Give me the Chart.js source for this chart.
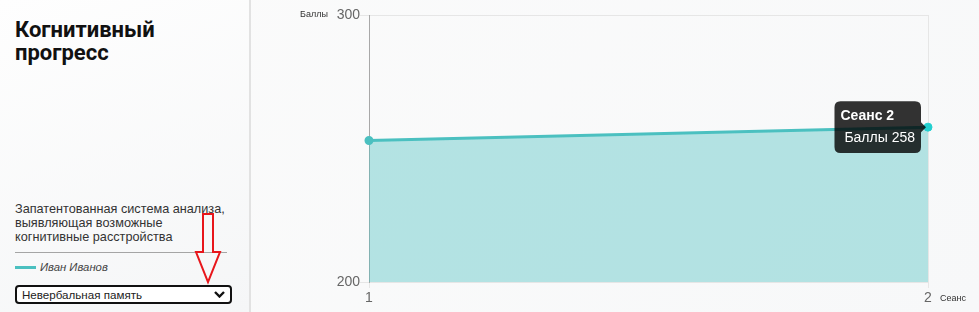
<!DOCTYPE html>
<html>
<head>
<meta charset="utf-8">
<script src="https://cdn.jsdelivr.net/npm/chart.js@4/dist/chart.umd.min.js"></script>
<style>
  html, body { margin:0; padding:0; }
  body { width:979px; height:312px; position:relative; overflow:hidden;
         background: linear-gradient(135deg, #fbfbfb 0%, #f7f8f9 100%);
         font-family: "Liberation Sans", Arial, sans-serif; }
  #panel { position:absolute; left:0; top:0; width:250px; height:312px;
           background: linear-gradient(160deg, #fefefe 0%, #f5f6f7 100%); }
  #sep { position:absolute; left:249px; top:0; width:2px; height:312px; background:#e2e2e2; }
  #title { position:absolute; left:15px; top:18px; font-family: Roboto, sans-serif; font-weight:700;
           font-size:22px; line-height:23px; color:#111; }
  #desc { position:absolute; left:15px; top:202px; width:225px; font-size:12.7px; line-height:14px; color:#333; }
  #hr { position:absolute; left:15px; top:252px; width:212px; height:1px; background:#a5a5a5; }
  #legline { position:absolute; left:15px; top:266px; width:21px; height:3px; background:#4bc0c0; }
  #legtext { position:absolute; left:40px; top:261px; font-size:11.3px; font-style:italic; color:#444; }
  #select { position:absolute; left:15px; top:285px; width:208px; height:15px; border:2px solid #111;
            border-radius:4px; background:#fff; font-size:11.6px; line-height:15px; color:#222; padding-left:5px; }
  #chev { position:absolute; right:5px; top:4px; }
  #wrap { position:absolute; left:255px; top:0; width:724px; height:312px; }
  .axt { position:absolute; font-size:9px; color:#333; }
  #arrow { position:absolute; left:0; top:0; }
</style>
</head>
<body>
<div id="panel"></div>
<div id="sep"></div>
<div id="title">Когнитивный<br>прогресс</div>
<div id="desc">Запатентованная система анализа,<br>выявляющая возможные<br>когнитивные расстройства</div>
<div id="hr"></div>
<div id="legline"></div>
<div id="legtext">Иван Иванов</div>
<div id="select">Невербальная память
  <svg id="chev" width="11" height="7" viewBox="0 0 11 7"><polyline points="1,1 5.5,5.5 10,1" fill="none" stroke="#111" stroke-width="2.4"/></svg>
</div>
<div id="wrap"><canvas id="c" width="724" height="312"></canvas></div>
<div class="axt" style="left:300px; top:9px;">Баллы</div>
<div class="axt" style="left:940px; top:293px;">Сеанс</div>
<svg id="arrow" width="979" height="312">
  <polygon points="203,214 213,214 213,252 220,252 208,282 196,252 203,252" fill="none" stroke="#e8161b" stroke-width="2"/>
</svg>
<script>
const sessions = ['1', '2'];
const scores = [253, 258];
const seriesLabel = 'Баллы';
const seriesName = 'Иван Иванов';
const yTicks = [200, 300];

const teal = 'rgb(75,192,192)';
const chart = new Chart(document.getElementById('c'), {
  type: 'line',
  data: {
    labels: sessions,
    datasets: [{
      label: seriesName,
      data: scores,
      borderColor: teal,
      backgroundColor: 'rgba(75,192,192,0.4)',
      pointBackgroundColor: teal,
      pointBorderColor: teal,
      borderWidth: 3,
      pointRadius: 3,
      pointHoverRadius: 4,
      fill: 'start',
      tension: 0
    }]
  },
  options: {
    responsive: false,
    animation: false,
    layout: { padding: { left: 0, right: 51, top: 15, bottom: 0 } },
    plugins: {
      legend: { display: false },
      tooltip: {
        displayColors: false,
        titleFont: { size: 14, weight: 'bold', family: 'Liberation Sans, Arial' },
        bodyFont: { size: 14, family: 'Liberation Sans, Arial' },
        callbacks: {
          title: items => 'Сеанс ' + items[0].label,
          label: item => ' ' + seriesLabel + ' ' + item.formattedValue
        }
      }
    },
    scales: {
      x: {
        grid: { color: '#e6e6e6', tickLength: 6 },
        border: { color: '#e6e6e6' },
        ticks: { color: '#666', font: { size: 14, family: 'Liberation Sans, Arial' }, padding: 2 },
        afterFit: s => { s.height = 30; }
      },
      y: {
        min: yTicks[0], max: yTicks[yTicks.length - 1],
        afterBuildTicks: s => { s.ticks = yTicks.map(v => ({ value: v })); },
        grid: { color: '#e6e6e6', tickLength: 9 },
        border: { color: '#a8a8a8' },
        ticks: { color: '#666', font: { size: 14, family: 'Liberation Sans, Arial' }, padding: 0 },
        afterFit: s => { s.width = 114; }
      }
    }
  }
});
const meta = chart.getDatasetMeta(0);
const pt = meta.data[1];
chart.setActiveElements([{ datasetIndex: 0, index: 1 }]);
chart.tooltip.setActiveElements([{ datasetIndex: 0, index: 1 }], { x: pt.x, y: pt.y });
chart.update('none');
</script>
</body>
</html>
